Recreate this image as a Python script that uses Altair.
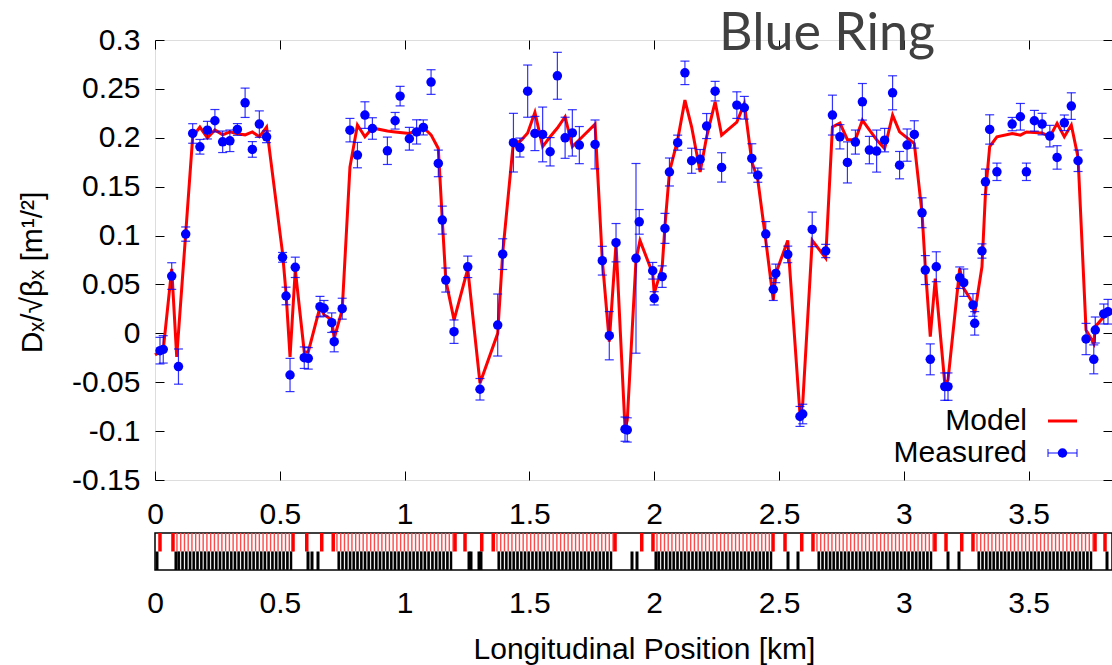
import altair as alt
import pandas as pd

# ---------------- data ----------------
meas_x = [0.020, 0.033, 0.067, 0.094, 0.123, 0.151, 0.180, 0.210, 0.240, 0.271,
          0.300, 0.330, 0.361, 0.390, 0.418, 0.447, 0.511, 0.525, 0.541, 0.562,
          0.598, 0.614, 0.661, 0.677, 0.708, 0.718, 0.750, 0.781, 0.811, 0.841,
          0.871, 0.931, 0.962, 0.982, 1.019, 1.048, 1.075, 1.106, 1.135, 1.151,
          1.165, 1.198, 1.253, 1.302, 1.373, 1.393, 1.436, 1.462, 1.493, 1.522,
          1.553, 1.583, 1.612, 1.643, 1.672, 1.700, 1.763, 1.792, 1.820, 1.847,
          1.883, 1.892, 1.927, 1.940, 1.994, 2.000, 2.032, 2.043, 2.061, 2.094,
          2.123, 2.150, 2.184, 2.210, 2.244, 2.270, 2.331, 2.361, 2.391, 2.415,
          2.447, 2.477, 2.487, 2.535, 2.584, 2.595, 2.633, 2.687, 2.714, 2.744,
          2.774, 2.806, 2.834, 2.862, 2.891, 2.923, 2.955, 2.983, 3.013, 3.042,
          3.073, 3.086, 3.106, 3.130, 3.164, 3.177, 3.224, 3.240, 3.277, 3.284,
          3.313, 3.327, 3.344, 3.373, 3.434, 3.467, 3.491, 3.523, 3.554, 3.585,
          3.614, 3.643, 3.671, 3.698, 3.730, 3.761, 3.767, 3.801, 3.818]
meas_y = [-0.0177, -0.0164, 0.0586, -0.0340, 0.1015, 0.2044, 0.1908, 0.2078, 0.2174, 0.1959,
          0.1969, 0.2085, 0.2358, 0.1881, 0.2140, 0.2010, 0.0777, 0.0382, -0.0426, 0.0675,
          -0.0249, -0.0256, 0.0273, 0.0256, 0.0109, -0.0085, 0.0252, 0.2078, 0.1823, 0.2232,
          0.2095, 0.1867, 0.2174, 0.2426, 0.1990, 0.2060, 0.2106, 0.2570, 0.1738, 0.1158,
          0.0545, 0.0017, 0.0680, -0.0572, 0.0085, 0.0810, 0.1950, 0.1900, 0.2477, 0.2044,
          0.2034, 0.1857, 0.2634, 0.2000, 0.2050, 0.1925, 0.1932, 0.0743, -0.0024, 0.0927,
          -0.0980, -0.0988, 0.0767, 0.1140, 0.0640, 0.0358, 0.0580, 0.1073, 0.1650, 0.1950,
          0.2664, 0.1765, 0.1780, 0.2120, 0.2477, 0.1697, 0.2334, 0.2307, 0.1789, 0.1618,
          0.1015, 0.0450, 0.0613, 0.0807, -0.0850, -0.0825, 0.1063, 0.0842, 0.2232, 0.2010,
          0.1748, 0.1956, 0.2368, 0.1874, 0.1864, 0.1976, 0.2460, 0.1720, 0.1925, 0.2034,
          0.1233, 0.0647, -0.0266, 0.0681, -0.0545, -0.0545, 0.0569, 0.0518, 0.0290, 0.0102,
          0.0842, 0.1550, 0.2085, 0.1652, 0.2140, 0.2215, 0.1652, 0.2174, 0.2140, 0.2017,
          0.1799, 0.2153, 0.2324, 0.1765, -0.0058, -0.0266, 0.0034, 0.0198, 0.0221]
meas_err = [0.0136, 0.0140, 0.0136, 0.0180, 0.0073, 0.0100, 0.0075, 0.0090, 0.0115, 0.0110,
            0.0110, 0.0060, 0.0150, 0.0080, 0.0135, 0.0060, 0.0050, 0.0090, 0.0170, 0.0104,
            0.0110, 0.0110, 0.0105, 0.0080, 0.0100, 0.0104, 0.0107, 0.0120, 0.0130, 0.0136,
            0.0110, 0.0140, 0.0085, 0.0100, 0.0116, 0.0124, 0.0077, 0.0126, 0.0136, 0.0143,
            0.0123, 0.0120, 0.0110, 0.0110, 0.0317, 0.0157, 0.0300, 0.0097, 0.0267, 0.0175,
            0.0280, 0.0145, 0.0240, 0.0210, 0.0237, 0.0190, 0.0250, 0.0147, 0.0247, 0.0196,
            0.0124, 0.0124, 0.0970, 0.0126, 0.0085, 0.0068, 0.0110, 0.0153, 0.0143, 0.0077,
            0.0120, 0.0128, 0.0100, 0.0128, 0.0100, 0.0150, 0.0136, 0.0116, 0.0150, 0.0073,
            0.0128, 0.0114, 0.0095, 0.0085, 0.0102, 0.0100, 0.0177, 0.0068, 0.0204, 0.0124,
            0.0210, 0.0123, 0.0187, 0.0140, 0.0215, 0.0120, 0.0174, 0.0140, 0.0165, 0.0140,
            0.0153, 0.0148, 0.0158, 0.0153, 0.0140, 0.0140, 0.0110, 0.0140, 0.0116, 0.0120,
            0.0073, 0.0130, 0.0150, 0.0089, 0.0068, 0.0136, 0.0089, 0.0106, 0.0110, 0.0110,
            0.0120, 0.0080, 0.0136, 0.0110, 0.0160, 0.0148, 0.0133, 0.0102, 0.0126]

model_x = [0.000, 0.020, 0.033, 0.067, 0.087, 0.123, 0.151, 0.180, 0.210, 0.240,
           0.271, 0.300, 0.330, 0.361, 0.390, 0.418, 0.447, 0.511, 0.525, 0.541,
           0.562, 0.598, 0.614, 0.661, 0.677, 0.708, 0.718, 0.750, 0.781, 0.811,
           0.841, 0.871, 0.931, 0.962, 1.019, 1.075, 1.106, 1.135, 1.151, 1.165,
           1.198, 1.253, 1.302, 1.373, 1.393, 1.436, 1.462, 1.493, 1.522, 1.553,
           1.583, 1.612, 1.643, 1.672, 1.700, 1.763, 1.792, 1.820, 1.847, 1.883,
           1.892, 1.927, 1.943, 1.994, 2.000, 2.032, 2.043, 2.061, 2.094, 2.123,
           2.150, 2.184, 2.210, 2.244, 2.270, 2.331, 2.361, 2.391, 2.415, 2.447,
           2.477, 2.487, 2.535, 2.584, 2.595, 2.633, 2.687, 2.714, 2.744, 2.774,
           2.806, 2.834, 2.862, 2.891, 2.923, 2.955, 2.983, 3.042, 3.073, 3.086,
           3.106, 3.126, 3.164, 3.177, 3.224, 3.240, 3.277, 3.284, 3.313, 3.327,
           3.344, 3.373, 3.434, 3.467, 3.491, 3.554, 3.585, 3.614, 3.643, 3.671,
           3.698, 3.730, 3.761, 3.767, 3.801, 3.818]
model_y = [-0.022, -0.019, -0.017, 0.066, -0.024, 0.102, 0.201, 0.211, 0.200, 0.208,
           0.203, 0.206, 0.204, 0.203, 0.206, 0.201, 0.211, 0.082, 0.041, -0.024,
           0.065, -0.019, -0.019, 0.027, 0.019, 0.014, -0.005, 0.024, 0.170, 0.213,
           0.201, 0.210, 0.207, 0.206, 0.2044, 0.2106, 0.203, 0.189, 0.116, 0.0545,
           0.0136, 0.066, -0.051, 0.000, 0.082, 0.196, 0.196, 0.205, 0.226, 0.191,
           0.201, 0.210, 0.2215, 0.191, 0.198, 0.214, 0.075, -0.0085, 0.092, -0.097,
           -0.089, 0.075, 0.095, 0.061, 0.041, 0.068, 0.110, 0.165, 0.198, 0.2385,
           0.211, 0.165, 0.201, 0.2368, 0.2027, 0.216, 0.235, 0.1755, 0.157, 0.095,
           0.034, 0.061, 0.095, -0.083, -0.0716, 0.095, 0.077, 0.211, 0.215, 0.198,
           0.198, 0.218, 0.208, 0.198, 0.189, 0.2232, 0.206, 0.194, 0.1227, 0.068,
           -0.0034, 0.056, -0.051, -0.0477, 0.0664, 0.046, 0.0307, 0.0204, 0.068, 0.143,
           0.191, 0.201, 0.2044, 0.2027, 0.206, 0.205, 0.201, 0.2147, 0.201, 0.213,
           0.180, 0.0034, -0.0102, 0.0068, 0.017, 0.022]

# lattice (magnet layout), in km
arc_starts = [0.088, 0.729, 1.370, 2.011, 2.652, 3.293]
dipole_offsets = [0.000, 0.015, 0.030, 0.045, 0.060, 0.075, 0.090, 0.105, 0.120, 0.135,
                  0.150, 0.165, 0.180, 0.195, 0.210, 0.225, 0.240, 0.255, 0.270, 0.285,
                  0.300, 0.315, 0.330, 0.345, 0.360, 0.375, 0.390, 0.405, 0.420, 0.435,
                  0.450, 0.465]
quad_offsets = [0.0075, 0.0225, 0.0375, 0.0525, 0.0675, 0.0825, 0.0975, 0.1125, 0.1275,
                0.1425, 0.1575, 0.1725, 0.1875, 0.2025, 0.2175, 0.2325, 0.2475, 0.2625,
                0.2775, 0.2925, 0.3075, 0.3225, 0.3375, 0.3525, 0.3675, 0.3825, 0.3975,
                0.4125, 0.4275, 0.4425, 0.4575]
sext_offsets = [0.0045, 0.0195, 0.0345, 0.0495, 0.0645, 0.0795, 0.0945, 0.1095, 0.1245,
                0.1395, 0.1545, 0.1695, 0.1845, 0.1995, 0.2145, 0.2295, 0.2445, 0.2595,
                0.2745, 0.2895, 0.3045, 0.3195, 0.3345, 0.3495, 0.3645, 0.3795, 0.3945,
                0.4095, 0.4245, 0.4395, 0.4545]
corr_offsets = [0.0110, 0.0260, 0.0410, 0.0560, 0.0710, 0.0860, 0.1010, 0.1160, 0.1310,
                0.1460, 0.1610, 0.1760, 0.1910, 0.2060, 0.2210, 0.2360, 0.2510, 0.2660,
                0.2810, 0.2960, 0.3110, 0.3260, 0.3410, 0.3560, 0.3710, 0.3860, 0.4010,
                0.4160, 0.4310, 0.4460]
big_dipoles = [0.020, 0.072, 0.553, 0.608, 0.668, 0.714, 1.202, 1.242, 1.309, 1.355,
               1.843, 1.950, 1.995, 2.476, 2.524, 2.591, 2.636, 3.125, 3.169, 3.232,
               3.277, 3.766, 3.806]
ir_quads = [0.008, 0.084, 0.613, 0.629, 0.653, 1.258, 1.266, 1.298, 1.306, 1.911,
            1.931, 2.007, 2.536, 2.576, 3.177, 3.221, 3.814]

x_ticks = [0, 0.5, 1, 1.5, 2, 2.5, 3, 3.5]
y_ticks = [-0.15, -0.1, -0.05, 0, 0.05, 0.1, 0.15, 0.2, 0.25, 0.3]
legend_labels = ["Model", "Measured"]
title_text = ["Blue Ring"]

# ---------------- tables ----------------
meas = pd.DataFrame({"s": meas_x, "d": meas_y, "e": meas_err})
meas["lo"] = meas["d"] - meas["e"]
meas["hi"] = meas["d"] + meas["e"]
model = pd.DataFrame({"s": model_x, "d": model_y})

dip = pd.DataFrame({"s": [a + o for a in arc_starts for o in dipole_offsets]})
quad = pd.DataFrame({"s": [a + o for a in arc_starts for o in quad_offsets]})
sext = pd.DataFrame({"s": [a + o for a in arc_starts for o in sext_offsets]})
corr = pd.DataFrame({"s": [a + o for a in arc_starts for o in corr_offsets]})
bigd = pd.DataFrame({"s": big_dipoles})
irq = pd.DataFrame({"s": ir_quads})
frame = pd.DataFrame({"a": [0.0], "b": [3.834], "lo": [0.0], "hi": [2.0]})

W, H = 957, 440
FONT = "Liberation Sans"
FS = 30
TICK = 9
X_DOMAIN = [0, 3.834]
Y_DOMAIN = [-0.15, 0.3]
LBL = "'' + datum.value"


def xs():
    return alt.Scale(domain=X_DOMAIN, nice=False, zero=False)


def ys():
    return alt.Scale(domain=Y_DOMAIN, nice=False, zero=False)


def lat_scale():
    return alt.Scale(domain=[0, 2], range=[530, 493], nice=False, zero=False)


x_axis_bottom = alt.Axis(values=x_ticks, labelExpr=LBL, orient="bottom", offset=-TICK,
                         tickSize=TICK, tickColor="black", tickWidth=1, domain=False,
                         grid=False, labelFont=FONT, labelFontSize=FS, labelColor="black",
                         labelPadding=19, labelFlush=False, title=None)
x_axis_top = alt.Axis(values=x_ticks, orient="top", offset=-TICK, tickSize=TICK,
                      tickColor="black", tickWidth=1, domain=False, grid=False,
                      labels=False, title=None)
y_axis_left = alt.Axis(values=y_ticks, labelExpr=LBL, orient="left", offset=-TICK,
                       tickSize=TICK, tickColor="black", tickWidth=1, domain=False,
                       grid=False, labelFont=FONT, labelFontSize=FS, labelColor="black",
                       labelPadding=15, labelFlush=False,
                       title="Dₓ/√βₓ [m¹/²]", titleFont=FONT, titleFontSize=FS,
                       titleFontWeight="normal", titleColor="black", titleAngle=270,
                       titleX=-132, titleY=232, titleAlign="center",
                       titleBaseline="middle")
y_axis_right = alt.Axis(values=y_ticks, orient="right", offset=-TICK, tickSize=TICK,
                        tickColor="black", tickWidth=1, domain=False, grid=False,
                        labels=False, title=None)
x_axis_lattice = alt.Axis(values=x_ticks, labelExpr=LBL, orient="bottom", offset=90,
                          ticks=False, domain=False, grid=False, labelFont=FONT,
                          labelFontSize=FS, labelColor="black", labelPadding=18,
                          labelFlush=False, title="Longitudinal Position [km]",
                          titleFont=FONT, titleFontSize=FS, titleFontWeight="normal",
                          titleColor="black", titleX=489, titleY=64,
                          titleAlign="center", titleBaseline="top")

BLUE = "#0000ff"
RED = "#ff0000"

line = alt.Chart(model).mark_line(color=RED, strokeWidth=3).encode(
    x=alt.X("s:Q", scale=xs(), axis=x_axis_bottom),
    y=alt.Y("d:Q", scale=ys(), axis=y_axis_left),
)
bars = alt.Chart(meas).mark_rule(color=BLUE, strokeWidth=1.2, opacity=0.8).encode(
    x=alt.X("s:Q", scale=xs(), axis=x_axis_top),
    y=alt.Y("lo:Q", scale=ys(), axis=y_axis_right),
    y2="hi:Q",
)
cap_lo = alt.Chart(meas).mark_tick(orient="horizontal", size=9, thickness=1.2,
                                   color=BLUE, opacity=0.8).encode(
    x=alt.X("s:Q", scale=xs(), axis=None),
    y=alt.Y("lo:Q", scale=ys(), axis=None),
)
cap_hi = alt.Chart(meas).mark_tick(orient="horizontal", size=9, thickness=1.2,
                                   color=BLUE, opacity=0.8).encode(
    x=alt.X("s:Q", scale=xs(), axis=None),
    y=alt.Y("hi:Q", scale=ys(), axis=None),
)
points = alt.Chart(meas).mark_circle(size=90, color=BLUE, opacity=1).encode(
    x=alt.X("s:Q", scale=xs(), axis=None),
    y=alt.Y("d:Q", scale=ys(), axis=None),
)


def lattice_rules(df, lo, hi, color, width):
    return alt.Chart(df).transform_calculate(lo=lo, hi=hi).mark_rule(
        color=color, strokeWidth=width).encode(
        x=alt.X("s:Q", scale=xs(), axis=None),
        y=alt.Y("lo:Q", scale=lat_scale(), axis=None), y2="hi:Q",
    )


lat_frame = alt.Chart(frame).mark_rect(fillOpacity=0, stroke="black",
                                       strokeWidth=1.5).encode(
    x=alt.X("a:Q", scale=xs(), axis=x_axis_lattice), x2="b:Q",
    y=alt.Y("lo:Q", scale=lat_scale(), axis=None), y2="hi:Q",
)
lat_dip = lattice_rules(dip, "1", "2", "#ff4a4a", 1.4)
lat_big = lattice_rules(bigd, "1", "2", RED, 3.5)
lat_corr = lattice_rules(corr, "0", "1", "#6e6e6e", 1.0)
lat_sext = lattice_rules(sext, "0", "1", "#4a4a4a", 1.3)
lat_quad = lattice_rules(quad, "0", "1", "#000000", 2.2)
lat_irq = lattice_rules(irq, "0", "1", "#000000", 3)

# plot title, drawn in the plot's own frame as in the reference
title = alt.Chart(pd.DataFrame({"t": title_text})).mark_text(
    align="center", baseline="alphabetic", font="Lato", fontSize=52,
    color="#404040").encode(x=alt.value(672), y=alt.value(10), text="t:N")

# key (drawn as gnuplot does: text, then sample)
leg_model = pd.DataFrame({"label": [legend_labels[0]]})
leg_meas = pd.DataFrame({"label": [legend_labels[1]]})
KX_TEXT, KX0, KX1 = 872, 893, 922
KY_MODEL, KY_MEAS = 381, 413
key_text1 = alt.Chart(leg_model).mark_text(align="right", baseline="middle", font=FONT,
                                           fontSize=FS, color="black").encode(
    x=alt.value(KX_TEXT), y=alt.value(KY_MODEL), text="label:N")
key_text2 = alt.Chart(leg_meas).mark_text(align="right", baseline="middle", font=FONT,
                                          fontSize=FS, color="black").encode(
    x=alt.value(KX_TEXT), y=alt.value(KY_MEAS), text="label:N")
key_line = alt.Chart(leg_model).mark_rule(color=RED, strokeWidth=3).encode(
    x=alt.value(KX0), x2=alt.value(KX1), y=alt.value(KY_MODEL))
key_bar = alt.Chart(leg_meas).mark_rule(color=BLUE, strokeWidth=1.2, opacity=0.8).encode(
    x=alt.value(KX0), x2=alt.value(KX1), y=alt.value(KY_MEAS))
key_cap1 = alt.Chart(leg_meas).mark_rule(color=BLUE, strokeWidth=1.2, opacity=0.8).encode(
    x=alt.value(KX0), y=alt.value(KY_MEAS - 4), y2=alt.value(KY_MEAS + 4))
key_cap2 = alt.Chart(leg_meas).mark_rule(color=BLUE, strokeWidth=1.2, opacity=0.8).encode(
    x=alt.value(KX1), y=alt.value(KY_MEAS - 4), y2=alt.value(KY_MEAS + 4))
key_dot = alt.Chart(leg_meas).mark_circle(size=90, color=BLUE, opacity=1).encode(
    x=alt.value((KX0 + KX1) / 2), y=alt.value(KY_MEAS))

chart = alt.layer(
    line, bars, cap_lo, cap_hi, points,
    lat_frame, lat_dip, lat_big, lat_corr, lat_sext, lat_quad, lat_irq,
    title,
    key_text1, key_text2, key_line, key_bar, key_cap1, key_cap2, key_dot,
).resolve_scale(
    x="independent", y="independent"
).resolve_axis(
    x="independent", y="independent"
).properties(
    width=W, height=H,
    autosize=alt.AutoSizeParams(type="none"),
    padding={"left": 155, "top": 40, "right": 0, "bottom": 185},
).configure_view(
    stroke="black", strokeWidth=1
).configure(background="white")

chart.save("out.html", embed_options={"renderer": "svg", "actions": False})
